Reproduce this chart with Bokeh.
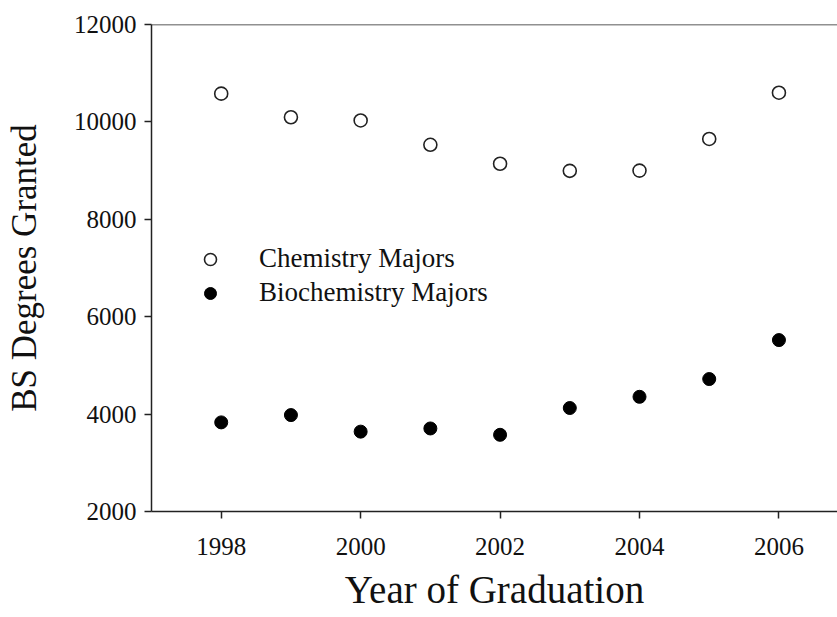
from bokeh.plotting import figure
from bokeh.models import FixedTicker, Range1d, Span, Legend, LegendItem, ColumnDataSource
from bokeh.embed import file_html
from bokeh.resources import INLINE

years = [1998, 1999, 2000, 2001, 2002, 2003, 2004, 2005, 2006]
chemistry = [10580, 10095, 10030, 9530, 9140, 8995, 9000, 9650, 10600]
biochemistry = [3830, 3980, 3640, 3705, 3575, 4125, 4355, 4720, 5520]
x_ticks = [1998, 2000, 2002, 2004, 2006]
y_ticks = [2000, 4000, 6000, 8000, 10000, 12000]
x_title = "Year of Graduation"
y_title = "BS Degrees Granted"

FONT = "Liberation Serif"

p = figure(width=837, height=617, output_backend="svg", toolbar_location=None,
           x_range=Range1d(1997, 2006.84), y_range=Range1d(2000, 12000),
           min_border_left=151, min_border_right=0, min_border_top=24, min_border_bottom=106)
p.outline_line_color = None
p.grid.grid_line_color = None
p.background_fill_color = "white"
p.border_fill_color = "white"

src = ColumnDataSource(dict(year=years, chem=chemistry, bio=biochemistry))
r1 = p.scatter("year", "chem", source=src, size=13, marker="circle",
               fill_color="white", line_color="#222222", line_width=1.6)
r2 = p.scatter("year", "bio", source=src, size=13, marker="circle",
               fill_color="black", line_color="black")

p.add_layout(Span(location=12000, dimension="width", line_color="#222222", line_width=1.5))

for ax in (p.xaxis, p.yaxis):
    ax.axis_line_color = "#222222"
    ax.axis_line_width = 1.5
    ax.major_tick_line_color = "#222222"
    ax.major_tick_line_width = 1.5
    ax.major_tick_in = 0
    ax.major_tick_out = 7
    ax.minor_tick_line_color = None
    ax.major_label_text_font = FONT
    ax.major_label_text_font_size = "25px"
    ax.major_label_text_color = "#111111"
    ax.axis_label_text_font = FONT
    ax.axis_label_text_font_style = "normal"
    ax.axis_label_text_color = "#111111"

p.xaxis.ticker = FixedTicker(ticks=x_ticks)
p.yaxis.ticker = FixedTicker(ticks=y_ticks)
p.xaxis.major_label_standoff = 19
p.yaxis.major_label_standoff = 8
p.xaxis.axis_label = x_title
p.yaxis.axis_label = y_title
p.xaxis.axis_label_text_font_size = "39px"
p.yaxis.axis_label_text_font_size = "35px"
p.xaxis.axis_label_standoff = 10
p.yaxis.axis_label_standoff = 27

legend = Legend(items=[LegendItem(label="Chemistry Majors", renderers=[r1]),
                       LegendItem(label="Biochemistry Majors", renderers=[r2])],
                location=(44, 203), orientation="vertical")
legend.glyph_width = 30
legend.glyph_height = 30
legend.label_height = 30
legend.spacing = 3
legend.padding = 0
legend.margin = 0
legend.label_standoff = 34
legend.border_line_color = None
legend.background_fill_color = None
legend.background_fill_alpha = 0
legend.label_text_font = FONT
legend.label_text_font_size = "27px"
legend.label_text_color = "#111111"
p.add_layout(legend)

open("out.html", "w").write(file_html(p, INLINE))
